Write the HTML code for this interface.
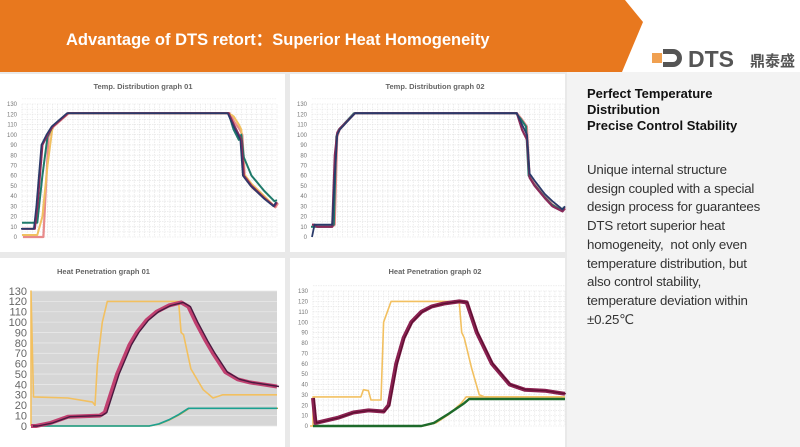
<!DOCTYPE html>
<html><head><meta charset="utf-8">
<style>
body{margin:0;width:800px;height:447px;overflow:hidden;background:#e9e9e9;font-family:"Liberation Sans",sans-serif;position:relative}
.hdr{position:absolute;left:0;top:0;width:800px;height:72px}
.right{position:absolute;left:567px;top:72px;width:233px;height:375px;background:#f3f3f3}
.h3{position:absolute;left:587px;top:86px;font:bold 13px "Liberation Sans",sans-serif;color:#111;line-height:16px}
.body{position:absolute;left:587px;top:161px;width:210px;font:13.3px "Liberation Sans","DejaVu Sans",sans-serif;color:#333;line-height:18.7px;white-space:nowrap;letter-spacing:-0.2px}
</style></head><body>
<svg class="hdr" width="800" height="72">
<rect x="0" y="0" width="800" height="72" fill="#fff"/>
<polygon points="0,0 625,0 643,22 622,72 0,72" fill="#e8781e"/>
<text x="66" y="45" font-family="Liberation Sans" font-weight="bold" font-size="16.5" fill="#fff">Advantage of DTS retort：Superior Heat Homogeneity</text>
</svg>
<div class="right"></div>
<svg style="position:absolute;left:650px;top:44px" width="150" height="30">
<rect x="2" y="9" width="10" height="10" fill="#f0a050"/>
<path d="M13,5 h10 a9,9 0 0 1 0,18 h-10 v-5 h10 a4,4 0 0 0 0,-8 h-10z" fill="#555"/>
<text x="38" y="23" font-family="Liberation Sans" font-weight="bold" font-size="23" fill="#555">DTS</text>
<text x="100" y="22" font-family="Noto Sans CJK SC,sans-serif" font-weight="bold" font-size="15" fill="#555">鼎泰盛</text>
</svg>
<div class="h3">Perfect Temperature<br>Distribution<br>Precise Control Stability</div>
<div class="body">Unique internal structure<br>design coupled with a special<br>design process for guarantees<br>DTS retort superior heat<br>homogeneity,&nbsp; not only even<br>temperature distribution, but<br>also control stability,<br>temperature deviation within<br>±0.25℃</div>
<svg id="charts" style="position:absolute;left:0;top:0" width="567" height="447"></svg>
<script>
// chart data (x in % of time axis, y in °C)
const yTicks=[0,10,20,30,40,50,60,70,80,90,100,110,120,130];
const td1X=[0,5,6,8,10,12,18,81,83,85,86,87,90,95,99,100];
const td1A=[8,8,30,90,100,108,121,121,110,100,95,60,50,38,30,34];
const td1B=[14,14,14,60,98,108,121,121,105,95,100,78,60,45,35,36];
const td1C=[2,2,2,20,70,108,121,121,118,110,105,62,52,40,30,34];
const td1D=[0,0,0,0,98,108,121,121,112,105,100,58,48,37,29,33];
const td2X=[0,1,2,8,9,10,11,17,81,83,85,86,88,92,95,99,100];
const td2A=[0,12,12,12,60,100,105,121,121,110,100,62,55,42,35,27,30];
const td2B=[10,10,10,10,12,98,105,121,121,115,108,60,52,40,32,26,29];
const td2C=[12,12,10,10,80,102,106,121,121,105,95,58,50,38,30,25,28];
const hp1YelX=[0,0,1,15,25,26,27,29,31,60,61,62,65,70,74,78,100];
const hp1YelV=[0,130,28,27,23,20,60,100,120,120,90,88,55,35,27,30,30];
const hp1PurX=[0,2,8,15,28,30,35,40,43,47,51,56,61,64,67,71,74,79,84,89,100];
const hp1PurV=[0,0,3,9,10,13,50,78,90,102,110,116,119,115,100,82,70,52,45,42,38];
const hp1GrnX=[0,48,52,56,60,64,100];
const hp1GrnV=[0,0,2,6,11,17,17];
const hp2YelX=[0,0,1,19,20,22,23,27,28,31,58,59,60,63,66,68,100];
const hp2YelV=[0,28,28,28,35,34,25,25,100,120,120,90,85,55,30,28,28];
const hp2Yel2X=[0,45,50,55,60,62,100];
const hp2Yel2V=[0,0,3,11,22,28,28];
const hp2PurX=[0,1,3,10,16,22,28,30,33,36,39,43,47,52,58,61,65,71,78,84,92,100];
const hp2PurV=[27,3,4,8,13,15,14,20,60,85,100,110,115,118,120,119,90,60,40,35,34,31];
const hp2GrnX=[0,43,48,54,60,62,100];
const hp2GrnV=[0,0,3,12,22,26,26];

const NS='http://www.w3.org/2000/svg';
const root=document.getElementById('charts');
function el(t,a,p){const e=document.createElementNS(NS,t);for(const k in a)e.setAttribute(k,a[k]);(p||root).appendChild(e);return e;}
function chart(cfg){
  const g=el('g',{});
  
  
  const bg=el('rect',{x:cfg.px,y:cfg.py,width:cfg.pw,height:cfg.ph,fill:'#fff'},g);
  
  
  const sx=v=>cfg.x0+v/100*(cfg.x1-cfg.x0);
  const sy=v=>cfg.y0-v/130*(cfg.y0-cfg.y1);
  const pa=el('rect',{x:cfg.x0,y:cfg.y1,width:cfg.x1-cfg.x0,height:cfg.y0-cfg.y1,fill:cfg.gray?'#d6d6d6':'#fff'},g);
  
  
  if(!cfg.gray){for(let i=0;i<=50;i++){el('line',{x1:sx(i*2),x2:sx(i*2),y1:cfg.y1,y2:cfg.y0,stroke:'#e2e2e2','stroke-width':0.6,'stroke-dasharray':'1.5,1'},g);}}
  for(let i=0;i<yTicks.length;i++){
    const t=yTicks[i];
    if(!cfg.gray){for(let h=0;h<2;h++)el('line',{x1:cfg.x0,x2:cfg.x1,y1:sy(t+h*5),y2:sy(t+h*5),stroke:'#e2e2e2','stroke-width':0.6,'stroke-dasharray':'1.5,1'},g);}
    else el('line',{x1:cfg.x0,x2:cfg.x1,y1:sy(t),y2:sy(t),stroke:'#e8e8e8','stroke-width':0.8},g);
    const tx=el('text',{x:cfg.x0-(cfg.gray?4:5),y:sy(t)+cfg.fs*0.35,'font-size':cfg.fs,'text-anchor':'end',fill:cfg.gray?'#666':'#777','font-family':'Liberation Sans'},g);
    tx.textContent=t;
    
    
  }
  const ti=el('text',{x:cfg.tx,y:cfg.ty,'font-size':7.5,'text-anchor':cfg.anchor||'middle',fill:'#666','font-family':'Liberation Sans','font-weight':'bold'},g);
  ti.textContent=cfg.title;
  
  
  cfg.series.forEach(s=>{
    const d=s.x.map((x,i)=>(i?'L':'M')+sx(x).toFixed(1)+','+sy(s.y[i]).toFixed(1)).join(' ');
    const p=el('path',{d:d,fill:'none',stroke:s.c,'stroke-width':s.w||1.6,'stroke-linejoin':'round',transform:s.dx?`translate(${s.dx},0)`:''},g);
    
    
  });
}
chart({name:'temp-distribution-graph-01',px:0,py:74,pw:285,ph:178,x0:22,x1:277,y0:237,y1:104,fs:6,title:'Temp. Distribution graph 01',tx:143,ty:89,
 series:[{x:td1X,y:td1D,c:'#e88a8a',w:2.2,dx:1},{x:td1X,y:td1C,c:'#f0c060',w:2},{x:td1X,y:td1B,c:'#1f7a6a',w:2},{x:td1X,y:td1A,c:'#8a2a5a',w:2.2},{x:td1X,y:td1A,c:'#2a3a6a',w:1.6,dx:-1}]});
chart({name:'temp-distribution-graph-02',px:290,py:74,pw:275,ph:178,x0:312,x1:565,y0:237,y1:104,fs:6,title:'Temp. Distribution graph 02',tx:435,ty:89,
 series:[{x:td2X,y:td2B,c:'#e88a8a',w:2},{x:td2X,y:td2B,c:'#1f7a6a',w:2,dx:-1},{x:td2X,y:td2C,c:'#8a2a5a',w:2.2},{x:td2X,y:td2A,c:'#2a3a6a',w:1.8}]});
chart({name:'heat-penetration-graph-01',gray:true,px:0,py:258,pw:285,ph:189,x0:31,x1:277,y0:426,y1:291,fs:11,title:'Heat Penetration graph 01',tx:57,ty:274,anchor:'start',
 series:[{x:hp1YelX,y:hp1YelV,c:'#f2c060',w:1.6},{x:hp1GrnX,y:hp1GrnV,c:'#b0a040',w:1.4,dx:1},{x:hp1GrnX,y:hp1GrnV,c:'#1aa090',w:1.6},{x:hp1PurX,y:hp1PurV,c:'#c04070',w:4},{x:hp1PurX,y:hp1PurV,c:'#4a1a40',w:1.4,dx:2}]});
chart({name:'heat-penetration-graph-02',px:290,py:258,pw:275,ph:189,x0:313,x1:565,y0:426,y1:291,fs:6,title:'Heat Penetration graph 02',tx:435,ty:274,
 series:[{x:hp2YelX,y:hp2YelV,c:'#f2c060',w:1.6},{x:hp2Yel2X,y:hp2Yel2V,c:'#f2c060',w:1.6,dx:-3},{x:hp2GrnX,y:hp2GrnV,c:'#1d6a2a',w:2.4},{x:hp2PurX,y:hp2PurV,c:'#8a2050',w:4},{x:hp2PurX,y:hp2PurV,c:'#5a1030',w:1.2,dx:1}]});
</script>
</body></html>
